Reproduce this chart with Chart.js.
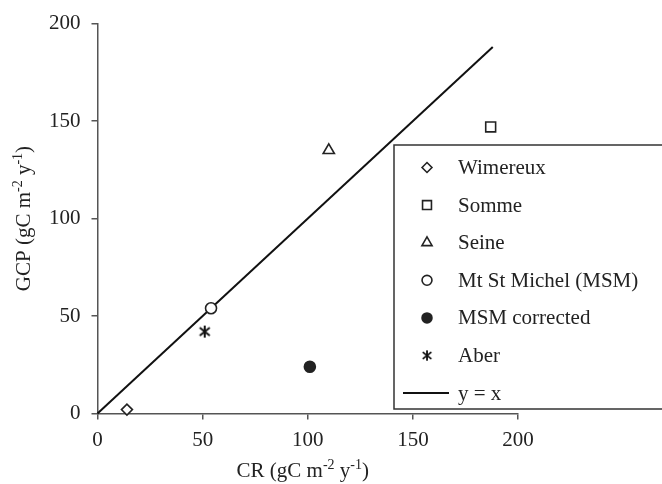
<html>
<head>
<title>GCP vs CR</title>
<style>
html, body {
  margin:0px;
  background:#fff;
}
</style>
<script src="https://cdn.jsdelivr.net/npm/chart.js@4/dist/chart.umd.min.js"></script>
</head>
<body>
<div style="position: relative; width:662px; height:484px;">
<canvas id="myChart" width="662" height="484"></canvas>
</div>
<script>
// values
const sites = ['Wimereux', 'Somme', 'Seine', 'Mt St Michel (MSM)', 'MSM corrected', 'Aber'];
const crValues = [14, 187, 110, 54, 101, 51];   // CR (x)
const gcpValues = [2, 147, 135, 54, 24, 42];    // GCP (y)
const lineEnds = [0, 188];                      // y = x line extent
const lineLabel = 'y = x';
const axisTicks = [0, 50, 100, 150, 200];

const ink = '#222';
const axisColor = '#555';
const serif = '"Liberation Serif", "Times New Roman", serif';

// asterisk marker (X plus vertical bar)
const star = document.createElement('canvas');
star.width = 14; star.height = 14;
(function(){
  const c = star.getContext('2d');
  c.strokeStyle = '#111'; c.lineWidth = 2;
  c.beginPath();
  c.moveTo(2, 3); c.lineTo(12, 11);
  c.moveTo(12, 3); c.lineTo(2, 11);
  c.moveTo(7, 1); c.lineTo(7, 13);
  c.stroke();
})();

const markers = [
  {pointStyle: 'rectRot', radius: 5.5, fill: '#fff'},
  {pointStyle: 'rect', radius: 7, fill: '#fff'},
  {pointStyle: 'triangle', radius: 6.5, fill: '#fff'},
  {pointStyle: 'circle', radius: 5.5, fill: '#fff'},
  {pointStyle: 'circle', radius: 5.5, fill: ink},
  {pointStyle: star, radius: 7, fill: '#fff'}
];

const datasets = sites.map(function(name, i){
  return {
    label: name,
    data: [{x: crValues[i], y: gcpValues[i]}],
    pointStyle: markers[i].pointStyle,
    pointRadius: markers[i].radius,
    pointBackgroundColor: markers[i].fill,
    pointBorderColor: ink,
    pointBorderWidth: 1.6,
    showLine: false,
    clip: false
  };
});
datasets.push({
  label: lineLabel,
  data: lineEnds.map(function(v){ return {x: v, y: v}; }),
  showLine: true,
  borderColor: '#111',
  borderWidth: 2,
  pointRadius: 0,
  clip: false
});

// axis title with superscripts
function unitText(ctx, parts, x, y, align) {
  const big = '21px ' + serif, small = '14px ' + serif;
  let w = 0;
  parts.forEach(function(p){ ctx.font = p[1] ? small : big; w += ctx.measureText(p[0]).width; });
  let cx = align === 'center' ? x - w / 2 : x;
  parts.forEach(function(p){
    ctx.font = p[1] ? small : big;
    ctx.fillText(p[0], cx, p[1] ? y - 8 : y);
    cx += ctx.measureText(p[0]).width;
  });
}

const decor = {
  id: 'decor',
  afterDraw(chart) {
    const ctx = chart.ctx;
    const area = chart.chartArea;
    ctx.save();
    ctx.fillStyle = ink;
    ctx.textBaseline = 'alphabetic';
    ctx.textAlign = 'left';
    // x title
    unitText(ctx, [['CR (gC m'], ['-2', 1], [' y'], ['-1', 1], [')']], (area.left + area.right) / 2 - 5, 477, 'center');
    // y title
    ctx.save();
    ctx.translate(30, (area.top + area.bottom) / 2);
    ctx.rotate(-Math.PI / 2);
    unitText(ctx, [['GCP (gC m'], ['-2', 1], [' y'], ['-1', 1], [')']], 0, 0, 'center');
    ctx.restore();

    // legend box, running off the right edge
    const bx = 394, by = 145, bh = 264;
    ctx.fillStyle = '#fff';
    ctx.fillRect(bx, by, 400, bh);
    ctx.strokeStyle = '#333';
    ctx.lineWidth = 1.5;
    ctx.strokeRect(bx, by, 400, bh);

    const rowY = 167.5, step = 37.6, mx = 427, tx = 458;
    chart.data.datasets.forEach(function(ds, i){
      const y = rowY + i * step;
      if (ds.showLine) {
        ctx.strokeStyle = '#111';
        ctx.lineWidth = 2;
        ctx.beginPath();
        ctx.moveTo(403, y); ctx.lineTo(449, y);
        ctx.stroke();
      } else if (ds.pointStyle instanceof HTMLCanvasElement) {
        ctx.drawImage(ds.pointStyle, mx - 6, y - 6, 12, 12);
      } else {
        ctx.fillStyle = ds.pointBackgroundColor;
        ctx.strokeStyle = ink;
        ctx.lineWidth = 1.6;
        Chart.helpers.drawPoint(ctx, {pointStyle: ds.pointStyle, rotation: 0,
          radius: ds.pointRadius * 0.9, borderWidth: 1.6}, mx, y);
      }
      ctx.fillStyle = ink;
      ctx.font = '21px ' + serif;
      ctx.textBaseline = 'middle';
      ctx.fillText(ds.label, tx, y + 1);
    });
    ctx.restore();
  }
};

const scaleBase = {
  type: 'linear',
  min: 0,
  max: 200,
  grid: {display: true, drawOnChartArea: false, drawTicks: true, tickLength: 6, color: axisColor, lineWidth: 1.5},
  border: {display: true, color: axisColor, width: 1.5},
  afterBuildTicks: function(s){ s.ticks = axisTicks.map(function(v){ return {value: v}; }); }
};

const ctx = document.getElementById('myChart');
const myChart = new Chart(ctx, {
  type: 'scatter',
  data: {datasets: datasets},
  options: {
    responsive: false,
    animation: false,
    layout: {padding: {top: 22.5, right: 144, left: 0, bottom: 0}},
    plugins: {legend: {display: false}, tooltip: {enabled: false}},
    scales: {
      x: Object.assign({}, scaleBase, {
        position: 'bottom',
        ticks: {color: ink, font: {family: serif, size: 21}, padding: 8, maxRotation: 0},
        afterFit: function(s){ s.height = 70.5; }
      }),
      y: Object.assign({}, scaleBase, {
        position: 'left',
        ticks: {color: ink, font: {family: serif, size: 21}, padding: 11},
        afterFit: function(s){ s.width = 97.5; }
      })
    }
  },
  plugins: [decor]
});
</script>
</body>
</html>
